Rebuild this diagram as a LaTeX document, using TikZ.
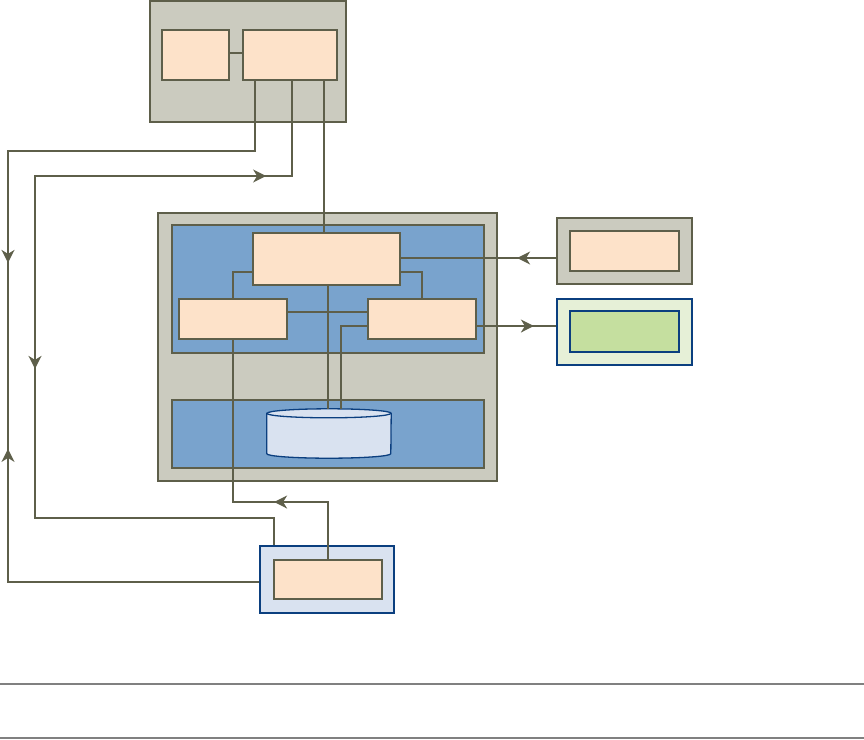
\documentclass[tikz,border=0pt]{standalone}
\usepackage{tikz}
\usetikzlibrary{
  arrows.meta,
  positioning,
  calc,
  decorations.markings
}
\definecolor{frame}{HTML}{5E5F4A}
\definecolor{shell}{HTML}{CBCBBF}
\definecolor{peach}{HTML}{FDE2C9}
\definecolor{panel}{HTML}{79A3CD}
\definecolor{pale}{HTML}{D9E2F0}
\definecolor{navy}{HTML}{0B3F7F}
\definecolor{lime}{HTML}{E6F0D7}
\definecolor{leaf}{HTML}{C5DF9F}

\begin{document}
\begin{tikzpicture}[x=1pt, y=-1pt,
    sh/.style={draw=frame, line width=1.8pt, fill=shell, inner sep=0pt},
    pn/.style={draw=frame, line width=1.8pt, fill=panel, inner sep=0pt},
    cp/.style={draw=frame, line width=1.8pt, fill=peach, inner sep=0pt},
    nv/.style={draw=navy, line width=1.8pt, inner sep=0pt},
    ln/.style={color=frame, line width=1.8pt},
    fwd/.style={postaction={decorate, decoration={markings,
        mark=at position #1 with {\arrow{Stealth[length=13pt,width=13pt,inset=4pt]}}}}},
    bwd/.style={postaction={decorate, decoration={markings,
        mark=at position #1 with {\arrowreversed{Stealth[length=13pt,width=13pt,inset=4pt]}}}}}
  ]
    \useasboundingbox (0,0) rectangle (864,739);
    % ---- top group ----
    \node[sh, minimum width=196, minimum height=121] (top) at (248,61.5) {};
    \node[cp, minimum width=67, minimum height=50] (tl) at (195.5,55) {};
    \node[cp, minimum width=94, minimum height=50] (tr) at (290,55) {};
    \draw[ln] ([yshift=2]tl.east) -- ([yshift=2]tr.west);
    % ---- middle group ----
    \node[sh, minimum width=339, minimum height=268] (mid) at (327.5,347) {};
    \node[pn, minimum width=312, minimum height=128] (up) at (328,289) {};
    \node[pn, minimum width=312, minimum height=68] (lo) at (328,434) {};
    \node[cp, minimum width=147, minimum height=52] (ctl) at (326.5,259) {};
    \node[cp, minimum width=108, minimum height=40] (lft) at (233,319) {};
    \node[cp, minimum width=108, minimum height=40] (rgt) at (422,319) {};
    % database drum
    \node[minimum width=124, minimum height=49, inner sep=0pt] (db) at (329,433.5) {};
    \draw[navy, fill=pale, line width=1.3pt]
      ([yshift=-4.5]db.north west) -- ([yshift=4.5]db.south west)
      arc[start angle=180, end angle=360, x radius=62pt, y radius=4.5pt]
      -- ([yshift=-4.5]db.north east)
      arc[start angle=0, end angle=180, x radius=62pt, y radius=4.5pt] -- cycle;
    \draw[navy, line width=1.3pt] ([yshift=-4.5]db.north west)
      arc[start angle=180, end angle=360, x radius=62pt, y radius=4.5pt];
    % ---- right group ----
    \node[sh, minimum width=135, minimum height=66] (ext) at (624.5,251) {};
    \node[cp, minimum width=109, minimum height=40] (exti) at (624.5,251) {};
    \node[nv, fill=lime, minimum width=135, minimum height=66] (grn) at (624.5,332) {};
    \node[nv, fill=leaf, minimum width=109, minimum height=41] (grni) at (624.5,331.5) {};
    % ---- bottom group ----
    \node[nv, fill=pale, minimum width=134, minimum height=67] (bot) at (327,579.5) {};
    \node[cp, minimum width=108, minimum height=39] (boti) at (328,579.5) {};
    % ---- bends ----
    \coordinate (la) at (8,151);
    \coordinate (lb) at (35,176);
    \coordinate (lc) at (35,518);
    \coordinate (lk) at (233,502);
    % ---- links ----
    \draw[ln, fwd=429pt, bwd=615pt] ([xshift=-35]tr.south) |- (la)
      -- ([yshift=-2.5]bot.west -| la) -- ([yshift=-2.5]bot.west);
    \draw[ln, bwd=121pt, fwd=545pt] ([xshift=2]tr.south) |- (lb) -- (lc)
      -| ([xshift=-53]bot.north);
    \draw[ln] ([xshift=34]tr.south) -- ([xshift=34]tr.south |- ctl.north);
    \draw[ln] ([yshift=-13]ctl.west) -| (lft.north);
    \draw[ln] ([yshift=-13]ctl.east) -| (rgt.north);
    \draw[ln] ([yshift=7]lft.east) -- ([yshift=7]rgt.west);
    \draw[ln] ([xshift=1.5]ctl.south) -- ([xshift=1.5]ctl.south |- db.north);
    \draw[ln] ([yshift=-7]rgt.west) -| ([xshift=12]db.north);
    \draw[ln, fwd=111pt] (boti.north) |- (lk) -- (lft.south);
    \draw[ln, fwd=39pt] ([yshift=-7]ext.west) -- ([yshift=-7]ext.west -| ctl.east);
    \draw[ln, fwd=57pt] ([yshift=-7]rgt.east) -- ([yshift=-7]rgt.east -| grn.west);
    % ---- rules ----
    \draw[gray, line width=1.2pt] (0,684) -- (864,684);
    \draw[gray, line width=1.2pt] (0,738) -- (864,738);
  \end{tikzpicture}
\end{document}
